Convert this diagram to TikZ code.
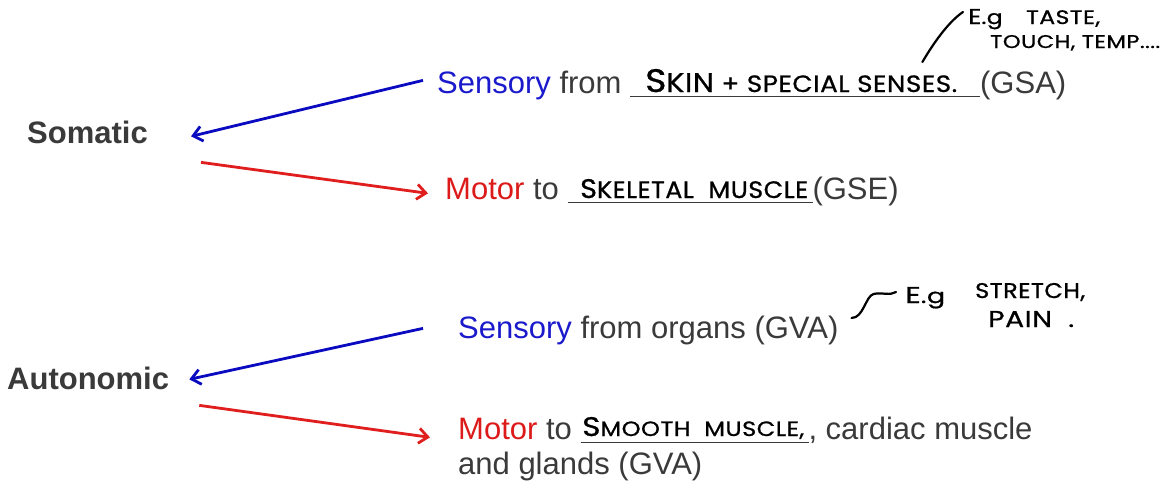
\documentclass[tikz,border=0pt]{standalone}
\usepackage{fontspec}
\usepackage{graphicx}
\setmainfont{Liberation Sans}
\newfontfamily\handfont{Poppins}[LetterSpace=2,FakeBold=0.8]
\usetikzlibrary{arrows.meta,positioning}
\definecolor{nervGray}{HTML}{3A3A3A}
\definecolor{nervBlue}{HTML}{1A1ACC}
\definecolor{nervRed}{HTML}{DD1A1A}
\definecolor{arrBlue}{HTML}{0A0AC0}
\definecolor{arrRed}{HTML}{E01E1E}

\begin{document}
\begin{tikzpicture}[x=1pt,y=-1pt,
  lbl/.style={anchor=base west,inner sep=0pt,text=nervGray,font=\fontsize{31}{35}\selectfont},
  head/.style={lbl,font=\fontsize{31}{35}\selectfont\bfseries},
  hand/.style={anchor=base west,inner sep=0pt,text=black,font=\handfont\fontsize{#1}{#1}\selectfont},
  hand/.default=20,
  sens/.style={draw=arrBlue,line width=2.8pt,-{Straight Barb[length=9pt,width=15pt]}},
  motr/.style={draw=arrRed,line width=2.8pt,-{Straight Barb[length=9pt,width=15pt]}},
  pen/.style={black,line width=2.2pt,line cap=round}]
  \def\fillin#1{\rlap{\rule[-4pt]{#1}{1.3pt}}\hspace*{#1}}
  \def\big#1#2{{\fontsize{#1}{#1}\selectfont #2}}
  \def\hw#1#2#3{\resizebox{#1}{#2}{#3}}
  \useasboundingbox (0,0) rectangle (1170,488);
  % left headings
  \node[head] (som) at (27,143) {Somatic};
  \node[head] (aut) at (7,389) {Autonomic};
  % typed lines
  \node[lbl] (sns1) at (437,93) {\textcolor{nervBlue}{Sensory} from \fillin{350pt}(GSA)};
  \node[lbl] (mot1) at (445,199) {\textcolor{nervRed}{Motor} to \fillin{245pt}(GSE)};
  \node[lbl] (sns2) at (458,338) {\textcolor{nervBlue}{Sensory} from organs (GVA)};
  \node[lbl] (mot2) at (458,439) {\textcolor{nervRed}{Motor} to \fillin{228pt}, cardiac muscle};
  \node[lbl] (mot2b) at (458,474) {and glands (GVA)};
  % handwriting
  \node[hand=21] (skin) at (645,92) {\hw{312pt}{23pt}{\big{29}{S}\big{24}{KIN} + SPECIAL SENSES.}};
  \node[hand=23] (skel) at (580,198) {\hw{228pt}{19pt}{\big{26}{S}KELETAL\ \ MUSCLE}};
  \node[hand=20] (smooth) at (582,436) {\hw{222pt}{19pt}{\big{26}{S}MOOTH\ \ MUSCLE,}};
  \node[hand] (egA) at (968,24) {\hw{132pt}{15pt}{\big{22}{E}.g\quad TASTE,}};
  \node[hand] (egB) at (990,48) {\hw{170pt}{13pt}{TOUCH, TEMP....}};
  \node[hand=24] (egC) at (905,303) {\hw{40pt}{16pt}{\big{27}{E}.g}};
  \node[hand=22] (strc) at (975,298) {\hw{110pt}{15pt}{STRETCH,}};
  \node[hand=22] (pain) at (988,327) {\hw{86pt}{16pt}{PAIN\ \ .}};
  \draw[pen] ([shift={(-35,-30)}]skin.base east) .. controls +(14,-24) and +(-12,8) .. ([shift={(-5,-12)}]egA.base west);
  \draw[pen] ([shift={(13,-20)}]sns2.base east) .. controls +(12,0) and +(-8,2) .. ++(22,-24)
    .. controls +(8,-2) and +(-6,4) .. ([shift={(-9,-11)}]egC.base west);
  % arrows
  \draw[sens] ([shift={(-14,-10)}]sns1.mid west) -- ([shift={(43,-4)}]som.mid east);
  \draw[motr] ([shift={(53,22)}]som.mid east) -- ([shift={(-17,-3)}]mot1.mid west);
  \draw[sens] ([shift={(-35,-7)}]sns2.mid west) -- ([shift={(20,-7)}]aut.mid east);
  \draw[motr] ([shift={(30,19)}]aut.mid east) -- ([shift={(-28,1)}]mot2.mid west);
\end{tikzpicture}
\end{document}
